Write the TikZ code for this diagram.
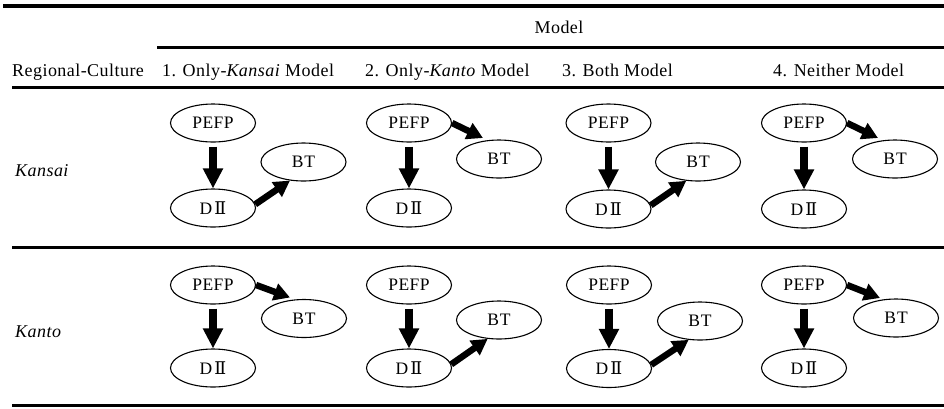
\documentclass[tikz,border=0pt]{standalone}
\usepackage{fontspec}
\setmainfont{Liberation Serif}
\newfontfamily\hdr{Liberation Serif}[LetterSpace=2.5]
\newfontfamily\romf{DejaVu Serif}
\usetikzlibrary{arrows.meta,shapes.geometric}
\begin{document}
\begin{tikzpicture}[x=1pt,y=-1pt,
  el/.style={draw, ellipse, line width=1.1pt, minimum width=85pt, minimum height=38pt, inner sep=0pt, font=\hdr\fontsize{17.5}{20}\selectfont},
  varr/.style={line width=7.5pt, -{Triangle[width=19pt,length=20pt]}},
  darr/.style={line width=6.5pt, -{Triangle[width=17pt,length=16pt]}},
  hrule/.style={line width=#1},
  txt/.style={font=\hdr\fontsize{18}{21}\selectfont, anchor=base west, inner sep=0pt}]
\useasboundingbox (0,0) rectangle (944,408);
% rules
\draw[hrule=4pt] (3,6) -- (944,6);
\draw[hrule=3pt] (157,47.3) -- (944,47.3);
\draw[hrule=2.7pt] (12,87.3) -- (944,87.3);
\draw[hrule=3.5pt] (12,247.5) -- (944,247.5);
\draw[hrule=3pt] (12,405) -- (944,405);
% header texts
\node[txt, anchor=base] (model) at (559,33) {Model};
\node[txt] (rc) at (12,76) {Regional-Culture};
\node[txt] (h1) at (162,76) {1. Only-\textit{Kansai} Model};
\node[txt] (h2) at (365,76) {2. Only-\textit{Kanto} Model};
\node[txt] (h3) at (562,76) {3. Both Model};
\node[txt] (h4) at (773,76) {4. Neither Model};
\node[txt, font=\hdr\itshape\fontsize{18}{21}\selectfont] (kansai) at (15,176) {Kansai};
\node[txt, font=\hdr\itshape\fontsize{18}{21}\selectfont] (kanto) at (15,337) {Kanto};
% Kansai row
\node[el] (p11) at (213,123) {PEFP};
\node[el] (d11) at (213,208) {D\kern2pt{\romf Ⅱ}};
\node[el] (b11) at (303.5,162) {B\kern1pt T};
\node[el] (p12) at (409,123) {PEFP};
\node[el] (d12) at (409,208) {D\kern2pt{\romf Ⅱ}};
\node[el] (b12) at (499,159) {B\kern1pt T};
\node[el] (p13) at (608.5,123) {PEFP};
\node[el] (d13) at (608.5,209) {D\kern2pt{\romf Ⅱ}};
\node[el] (b13) at (698,162) {B\kern1pt T};
\node[el] (p14) at (804,123) {PEFP};
\node[el] (d14) at (804,209) {D\kern2pt{\romf Ⅱ}};
\node[el] (b14) at (895,159) {B\kern1pt T};
% Kanto row
\node[el] (p21) at (213,285) {PEFP};
\node[el] (d21) at (213,368) {D\kern2pt{\romf Ⅱ}};
\node[el] (b21) at (304,318.5) {B\kern1pt T};
\node[el] (p22) at (409,285) {PEFP};
\node[el] (d22) at (409,368) {D\kern2pt{\romf Ⅱ}};
\node[el] (b22) at (499,320) {B\kern1pt T};
\node[el] (p23) at (609,285) {PEFP};
\node[el] (d23) at (609,368.5) {D\kern2pt{\romf Ⅱ}};
\node[el] (b23) at (700,321) {B\kern1pt T};
\node[el] (p24) at (804,285) {PEFP};
\node[el] (d24) at (804,368) {D\kern2pt{\romf Ⅱ}};
\node[el] (b24) at (896,318) {B\kern1pt T};
% vertical arrows
\foreach \r in {1,2}{\foreach \c in {1,2,3,4}{
  \draw[varr] ([yshift=-4pt]p\r\c.south) -- (d\r\c.north);
}}
% DII -> BT
\draw[darr] (d11.5) -- (b11.234);
\draw[darr] (d13.5) -- (b13.238);
\draw[darr] (d22.5) -- (b22.239);
\draw[darr] (d23.5) -- (b23.239);
% PEFP -> BT
\draw[darr] (p12.east) -- ([shift={(-16,-21)}]b12.center);
\draw[darr] (p14.east) -- ([shift={(-17,-21)}]b14.center);
\draw[darr] (p21.east) -- ([shift={(-14,-21)}]b21.center);
\draw[darr] (p24.east) -- ([shift={(-16,-20)}]b24.center);
\end{tikzpicture}
\end{document}
